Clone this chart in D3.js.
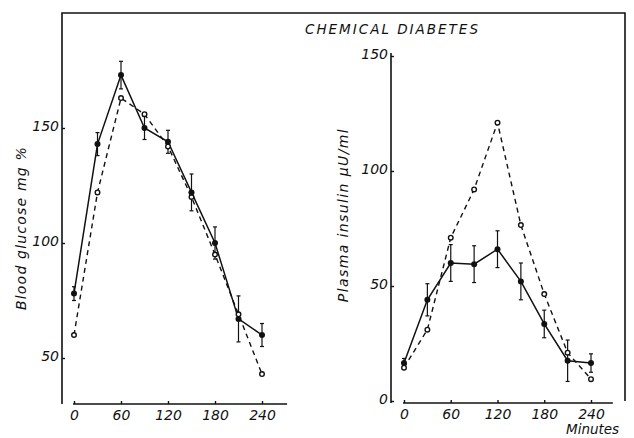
<!DOCTYPE html>
<html>
<head>
<meta charset="utf-8">
<script src="https://cdn.jsdelivr.net/npm/d3@7"></script>
<style>
  body { margin: 0; background: #fff; }
  text { font-family: "DejaVu Sans", sans-serif; font-style: italic; fill: #111; }
</style>
</head>
<body>
<svg id="chart"></svg>
<script>
const width = 634;
const height = 438;

// sampling times (minutes)
const minutes = [0, 30, 60, 90, 120, 150, 180, 210, 240];
const xTicks = [0, 60, 120, 180, 240];

// blood glucose, mg %
const glucoseSolid = [78, 143, 173, 150, 144, 122, 100, 67, 60];
const glucoseSolidErr = [3, 5, 6, 5, 5, 8, 7, 10, 5];
const glucoseDashed = [60, 122, 163, 156, 142, 120, 95, 69, 43];
const glucoseTicks = [50, 100, 150];

// plasma insulin, µU/ml
const insulinSolid = [16.5, 44, 60, 59.5, 66, 52, 33.5, 17.5, 16.5];
const insulinSolidErr = [2, 7, 8, 8, 8, 8, 6, 9, 4];
const insulinDashed = [14.5, 31, 71, 92, 121, 76.5, 46.5, 21, 9.5];
const insulinTicks = [0, 50, 100, 150];

const svg = d3.select('#chart')
  .attr('width', width)
  .attr('height', height);

// frame around both panels
svg.append('path')
  .attr('d', 'M62,404 L62,13 L625,13 L625,401')
  .attr('fill', 'none')
  .attr('stroke', '#111')
  .attr('stroke-width', 1.6);

svg.append('text')
  .attr('x', 305)
  .attr('y', 34)
  .attr('font-size', 13.5)
  .attr('letter-spacing', 2)
  .text('CHEMICAL DIABETES');

const styleText = (sel) => sel
  .attr('font-size', 14)
  .attr('font-family', '"DejaVu Sans", sans-serif')
  .attr('font-style', 'italic')
  .attr('fill', '#111');

const drawPanel = (opt) => {
  const x = d3.scaleLinear().domain([0, 240]).range(opt.xRange);
  const y = d3.scaleLinear().domain(opt.yDomain).range(opt.yRange);
  const g = svg.append('g');

  // x axis
  g.append('line')
    .attr('x1', x(0) - 1).attr('x2', x(opt.xEnd))
    .attr('y1', opt.xAxisY).attr('y2', opt.xAxisY)
    .attr('stroke', '#111').attr('stroke-width', 1.4);

  const xAxis = d3.axisBottom(x)
    .tickValues(xTicks)
    .tickSizeInner(-3)
    .tickSizeOuter(0)
    .tickPadding(6);

  g.append('g')
    .attr('transform', `translate(0,${opt.xAxisY})`)
    .call(xAxis)
    .call((a) => a.select('.domain').remove())
    .call((a) => a.selectAll('line').attr('stroke', '#111').attr('stroke-width', 1.4))
    .call((a) => styleText(a.selectAll('text')));

  // y axis
  if (opt.drawYLine) {
    g.append('line')
      .attr('x1', opt.yAxisX).attr('x2', opt.yAxisX)
      .attr('y1', opt.yLineTop).attr('y2', opt.xAxisY)
      .attr('stroke', '#111').attr('stroke-width', 1.6);
  }

  const yAxis = d3.axisLeft(y)
    .tickValues(opt.yTicks)
    .tickSizeInner(-3)
    .tickSizeOuter(0)
    .tickPadding(3);

  g.append('g')
    .attr('transform', `translate(${opt.yAxisX},0)`)
    .call(yAxis)
    .call((a) => a.select('.domain').remove())
    .call((a) => a.selectAll('line').attr('stroke', '#111').attr('stroke-width', 1.4))
    .call((a) => styleText(a.selectAll('text')).attr('dy', '0.2em'));

  g.append('text')
    .attr('transform', `translate(${opt.labelX},${opt.labelY}) rotate(-90)`)
    .attr('text-anchor', 'middle')
    .attr('font-size', 14)
    .attr('letter-spacing', opt.labelSpacing)
    .text(opt.label);

  const line = d3.line()
    .x((d, i) => x(minutes[i]))
    .y((d) => y(d));

  // dashed series
  g.append('path')
    .datum(opt.dashed)
    .attr('d', line)
    .attr('fill', 'none')
    .attr('stroke', '#111')
    .attr('stroke-width', 1.4)
    .attr('stroke-dasharray', '5,4');

  // solid series
  g.append('path')
    .datum(opt.solid)
    .attr('d', line)
    .attr('fill', 'none')
    .attr('stroke', '#111')
    .attr('stroke-width', 1.5);

  // error bars
  const bars = g.append('g').selectAll('g')
    .data(opt.solid)
    .enter()
    .append('g');

  bars.append('line')
    .attr('x1', (d, i) => x(minutes[i]))
    .attr('x2', (d, i) => x(minutes[i]))
    .attr('y1', (d, i) => y(d + opt.err[i]))
    .attr('y2', (d, i) => y(d - opt.err[i]))
    .attr('stroke', '#111')
    .attr('stroke-width', 1.2);

  [1, -1].forEach((s) => {
    bars.append('line')
      .attr('x1', (d, i) => x(minutes[i]) - 2)
      .attr('x2', (d, i) => x(minutes[i]) + 2)
      .attr('y1', (d, i) => y(d + s * opt.err[i]))
      .attr('y2', (d, i) => y(d + s * opt.err[i]))
      .attr('stroke', '#111')
      .attr('stroke-width', 1.2);
  });

  g.append('g').selectAll('circle')
    .data(opt.dashed)
    .enter()
    .append('circle')
    .attr('cx', (d, i) => x(minutes[i]))
    .attr('cy', (d) => y(d))
    .attr('r', 2.3)
    .attr('fill', '#fff')
    .attr('stroke', '#111')
    .attr('stroke-width', 1.4);

  g.append('g').selectAll('circle')
    .data(opt.solid)
    .enter()
    .append('circle')
    .attr('cx', (d, i) => x(minutes[i]))
    .attr('cy', (d) => y(d))
    .attr('r', 3)
    .attr('fill', '#111');
};

drawPanel({
  xRange: [74, 262], xEnd: 272, xAxisY: 404,
  yDomain: [30, 200], yRange: [404, 13], yTicks: glucoseTicks,
  yAxisX: 62, drawYLine: false,
  label: 'Blood glucose mg %', labelX: 26, labelY: 228, labelSpacing: 1.2,
  solid: glucoseSolid, err: glucoseSolidErr, dashed: glucoseDashed
});

drawPanel({
  xRange: [404, 591], xEnd: 268, xAxisY: 403,
  yDomain: [0, 150], yRange: [401, 56], yTicks: insulinTicks,
  yAxisX: 391, drawYLine: true, yLineTop: 53,
  label: 'Plasma insulin µU/ml', labelX: 348, labelY: 215, labelSpacing: 1.4,
  solid: insulinSolid, err: insulinSolidErr, dashed: insulinDashed
});

svg.append('text')
  .attr('x', 566)
  .attr('y', 434)
  .attr('font-size', 13.5)
  .text('Minutes');
</script>
</body>
</html>
